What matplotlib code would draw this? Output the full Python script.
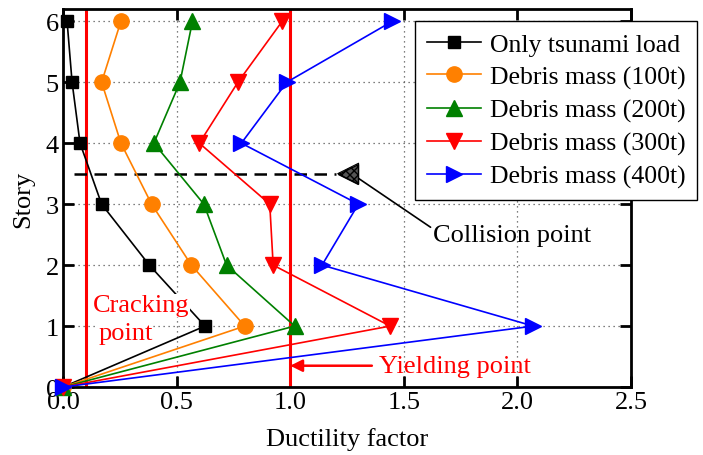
import matplotlib

matplotlib.use("Agg")
import matplotlib.pyplot as plt

STORIES = [0, 1, 2, 3, 4, 5, 6]

ONLY_TSUNAMI = [0.0, 0.625, 0.38, 0.17, 0.075, 0.04, 0.018]
DEBRIS_100T = [0.0, 0.80, 0.565, 0.39, 0.255, 0.17, 0.255]
DEBRIS_200T = [0.0, 1.02, 0.72, 0.62, 0.40, 0.515, 0.57]
DEBRIS_300T = [0.0, 1.44, 0.925, 0.91, 0.60, 0.77, 0.965]
DEBRIS_400T = [0.0, 2.07, 1.14, 1.30, 0.785, 0.985, 1.45]

SERIES_LABELS = [
    "Only tsunami load",
    "Debris mass (100t)",
    "Debris mass (200t)",
    "Debris mass (300t)",
    "Debris mass (400t)",
]

CRACKING_X = 0.1
YIELDING_X = 1.0
COLLISION_STORY = 3.5

plt.rcParams["font.family"] = ["Liberation Serif", "DejaVu Serif"]
plt.rcParams["font.size"] = 19

fig = plt.figure(figsize=(7.03, 4.56), dpi=100)
ax = fig.add_axes([0.0896, 0.149, 0.808, 0.829])

styles = [
    ("black", "s", 9),
    ("#ff8000", "o", 11),
    ("green", "^", 12),
    ("red", "v", 12),
    ("blue", ">", 12),
]
for values, label, (color, marker, ms) in zip(
    [ONLY_TSUNAMI, DEBRIS_100T, DEBRIS_200T, DEBRIS_300T, DEBRIS_400T], SERIES_LABELS, styles
):
    ax.plot(values, STORIES, color=color, marker=marker, markersize=ms,
            linewidth=1.2, label=label, clip_on=False, zorder=3)

ax.axvline(CRACKING_X, color="red", linewidth=2.2, zorder=2)
ax.axvline(YIELDING_X, color="red", linewidth=2.2, zorder=2)

# collision level
ax.plot([0.05, 1.2], [COLLISION_STORY, COLLISION_STORY], color="black",
        linestyle=(0, (5, 3)), linewidth=1.8, zorder=2)
ax.plot([1.255], [COLLISION_STORY], marker="<", markersize=15, color="#555555",
        markeredgecolor="black", zorder=4)
ax.scatter([1.255], [COLLISION_STORY], marker="<", s=225, facecolor="none",
           edgecolor="black", hatch="xxxx", linewidth=0.8, zorder=5)
ax.annotate("Collision point", xy=(1.27, COLLISION_STORY), xytext=(1.63, 2.5),
            ha="left", va="center",
            arrowprops=dict(arrowstyle="-", color="black", linewidth=1.2,
                            shrinkA=0, shrinkB=0, relpos=(0, 0.75)))

ax.text(0.13, 1.34, "Cracking", color="red", ha="left", va="center",
        bbox=dict(facecolor="white", edgecolor="none", pad=0.5), zorder=3.5)
ax.text(0.155, 0.88, "point", color="red", ha="left", va="center",
        bbox=dict(facecolor="white", edgecolor="none", pad=0.5), zorder=3.5)

ax.annotate("Yielding point", xy=(YIELDING_X, 0.35), xytext=(1.39, 0.35),
            color="red", ha="left", va="center",
            arrowprops=dict(arrowstyle="-|>", color="red", linewidth=1.8,
                            mutation_scale=18, shrinkA=3, shrinkB=0))

ax.set_xlim(0, 2.5)
ax.set_ylim(0, 6.2)
ax.set_xticks([0.0, 0.5, 1.0, 1.5, 2.0, 2.5])
ax.set_xticklabels(["0.0", "0.5", "1.0", "1.5", "2.0", "2.5"])
ax.set_yticks(STORIES)
ax.grid(True, color="#555555", linestyle=(0, (1, 3)), linewidth=0.9)
ax.tick_params(direction="in", length=8, width=2, top=True, right=True, pad=3)
for spine in ax.spines.values():
    spine.set_linewidth(2)

ax.set_xlabel("Ductility factor", labelpad=10)
ax.set_ylabel("Story", labelpad=8)

leg = ax.legend(loc="upper left", bbox_to_anchor=(0.62, 0.968), fontsize=18.5,
                frameon=True, fancybox=False, edgecolor="black", framealpha=1,
                borderpad=0.45, labelspacing=0.38, handlelength=2.1, handletextpad=0.35,
                borderaxespad=0)
leg.get_frame().set_linewidth(1.0)
leg.set_zorder(6)

fig.savefig("out.png", dpi=100)
